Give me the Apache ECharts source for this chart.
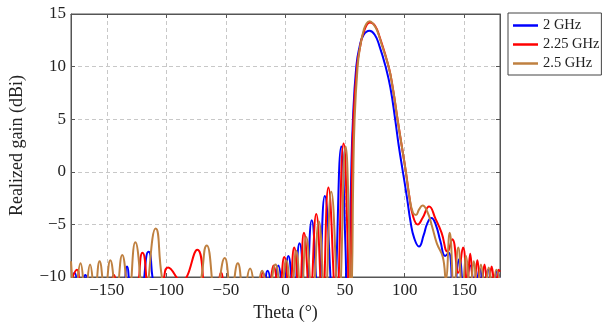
<!DOCTYPE html>
<html><head><meta charset="utf-8">
<script src="https://cdn.jsdelivr.net/npm/echarts@6/dist/echarts.min.js"></script>
<style>html,body{margin:0;padding:0;background:#fff}#c{width:603px;height:322px}</style>
</head><body><div id="c"></div>
<script>
const seriesNames = ['2 GHz', '2.25 GHz', '2.5 GHz'];
const thetaTicks = [-150, -100, -50, 0, 50, 100, 150];
const gainTicks = [-10, -5, 0, 5, 10, 15];

const gain2GHz = [[-180,-10.6],[-177,-9.6],[-173,-11.5],[-168,-9.8],[-164,-11.5],[-150,-13],[-137,-11.5],[-133,-9.0],[-129,-11.5],[-123,-11.8],[-115,-7.6],[-107,-12],[-80,-14],[-40,-14],[-20,-11.5],[-15,-9.4],[-10.5,-11.5],[-6,-8.9],[-1.8,-11.6],[2.4,-8.0],[7,-11.8],[11.8,-6.8],[17,-12],[22,-4.6],[27.5,-12],[33,-2.3],[40,-12.5],[46.8,2.4],[50.3,-7],[51.8,-13],[53.5,-10],[55,-1],[56.6,5],[59.4,10],[62,11.8],[65.5,13],[70.5,13.4],[75,13],[79,11.9],[84,10],[88,8],[92,5],[95,2.5],[98.5,0],[102,-2.5],[105,-4.8],[108,-6.3],[112,-7.1],[116,-6],[119,-4.9],[122.4,-4.4],[126,-5],[130,-6.6],[134,-8],[137,-7.7],[141,-11.5],[146,-8.3],[150,-11.5],[155,-8.9],[159,-11.5],[163,-9.2],[166.5,-11.5],[170,-9.3],[174,-11.5],[177.5,-9.4],[180,-10.5]];

const gain225GHz = [[-180,-10.4],[-175,-9.3],[-171,-11.5],[-160,-13],[-148,-11.5],[-144,-9.8],[-140,-11.5],[-128,-11.8],[-120,-7.7],[-112.5,-12],[-104,-10.8],[-98.5,-9.1],[-87.5,-10.4],[-74,-7.4],[-65,-12.5],[-58,-11.5],[-54,-9.6],[-50,-11.5],[-35,-13],[-23,-11.5],[-19,-9.6],[-14.5,-11.5],[-10,-8.9],[-5.5,-11.6],[-1,-8.1],[3.2,-11.8],[7.3,-7.2],[11.5,-12],[15.5,-5.8],[20.5,-12],[25.8,-4.0],[31,-12.3],[36,-1.5],[42.5,-12.5],[48.7,2.7],[52,-6],[53.2,-13],[54.6,-10],[55.6,-1],[57,5],[60,10],[62.5,11.8],[66,13.4],[71,14.2],[75,13.9],[79,12.8],[86.5,10],[90,8],[94,5],[97.5,2.5],[101,0],[104,-2.4],[107,-4.2],[111,-5.0],[115,-4.4],[120.5,-3.3],[126,-4.5],[131,-5.8],[136,-7.6],[140,-6.4],[145,-9.6],[149,-7.2],[152.5,-10.8],[155,-7.8],[158,-11.5],[161,-8.4],[164,-11.5],[167,-8.8],[170,-11.5],[173,-9.0],[176,-11.5],[179,-9.3],[180,-9.5]];

const gain25GHz = [[-180,-8.5],[-176.5,-11.5],[-172,-8.7],[-168,-11.5],[-164,-8.8],[-160,-11.5],[-156,-8.5],[-151.5,-11.5],[-147,-8.4],[-142,-11.5],[-137,-7.9],[-131.5,-11.7],[-126,-6.7],[-118.5,-12],[-109,-5.4],[-100,-12],[-88,-13],[-75,-12],[-66,-7.0],[-58.5,-11.8],[-51,-8.2],[-45.5,-11.5],[-40,-8.7],[-35,-11.5],[-29.7,-9.2],[-24.5,-11.5],[-19.6,-9.4],[-14.5,-11.5],[-8.4,-8.8],[-3.8,-11.6],[0.6,-8.4],[4.8,-11.8],[9,-7.5],[13,-12],[17.4,-6.2],[22.5,-12],[28,-4.7],[33,-12.3],[38.4,-1.9],[44.5,-12.5],[50.4,2.4],[53.5,-6],[54.6,-13],[55.8,-10],[56.8,-1],[58,5],[60.5,10],[62.5,11.8],[65.5,13.4],[68,14.1],[70.6,14.3],[74,14.0],[77,13.4],[81,12.0],[86.5,10],[90,8],[94,5],[97.5,2.5],[101,0],[104,-2.4],[107,-3.9],[109.5,-4.1],[112,-3.6],[115,-3.2],[119,-3.8],[123,-5.2],[127,-6.8],[132,-8.1],[134.5,-10.2],[137.8,-5.8],[141.5,-11.5],[145,-7.2],[148.5,-11.5],[151.5,-8.0],[155,-11.5],[158,-8.5],[161,-11.5],[164,-8.8],[167.5,-11.5],[170.5,-9.1],[174,-11.5],[177,-9.3],[180,-10.5]];

const colors = ['#0000ff', '#ff0000', '#bf8040'];
const FONT = 'Liberation Serif';
const minus = v => String(v).replace('-', '\u2212');

const chart = echarts.init(document.getElementById('c'), null, {renderer: 'canvas'});
const axisCommon = {
  axisLine: {show: true, onZero: false, lineStyle: {color: '#555', width: 1}},
  axisTick: {show: true, inside: true, length: 4, lineStyle: {color: '#555'}},
};
chart.setOption({
  animation: false,
  backgroundColor: '#fff',
  grid: {left: 71, right: 103, top: 14, bottom: 45, containLabel: false, outerBoundsMode: 'none',
         show: true, borderColor: '#555', borderWidth: 1, backgroundColor: '#fff'},
  legend: {
    data: seriesNames, orient: 'vertical', left: 508, top: 13,
    icon: 'rect', itemWidth: 25, itemHeight: 2.5, itemGap: 4,
    borderColor: '#444', borderWidth: 1, padding: [5, 2, 4, 5],
    textStyle: {fontFamily: FONT, fontSize: 14.5, color: '#222'}
  },
  xAxis: [{
    type: 'value', min: -180, max: 180, position: 'bottom',
    name: 'Theta (°)', nameLocation: 'middle', nameGap: 26,
    nameTextStyle: {fontFamily: FONT, fontSize: 18, color: '#222'},
    ...axisCommon,
    axisTick: {show: true, inside: true, length: 4, lineStyle: {color: '#555'}, customValues: thetaTicks},
    axisLabel: {fontFamily: FONT, fontSize: 17, color: '#222', margin: 5, customValues: thetaTicks, formatter: minus},
    splitLine: {show: true, lineStyle: {color: '#c8c8c8', type: [4, 3], width: 1}, customValues: thetaTicks}
  }, {
    type: 'value', min: -180, max: 180, position: 'top',
    axisLine: {show: true, onZero: false, lineStyle: {color: '#555'}},
    axisTick: {show: true, inside: true, length: 4, lineStyle: {color: '#555'}, customValues: thetaTicks},
    axisLabel: {show: false, customValues: thetaTicks}, splitLine: {show: false}
  }],
  yAxis: [{
    type: 'value', min: -10, max: 15, interval: 5, position: 'left',
    name: 'Realized gain (dBi)', nameLocation: 'middle', nameGap: 45, nameRotate: 90,
    nameTextStyle: {fontFamily: FONT, fontSize: 18, color: '#222'},
    ...axisCommon,
    axisLabel: {fontFamily: FONT, fontSize: 17, color: '#222', margin: 5, formatter: minus},
    splitLine: {show: true, lineStyle: {color: '#c8c8c8', type: [4, 3], width: 1}}
  }, {
    type: 'value', min: -10, max: 15, interval: 5, position: 'right',
    ...axisCommon, axisLabel: {show: false}, splitLine: {show: false}
  }],
  series: [gain2GHz, gain225GHz, gain25GHz].map((d, i) => ({
    name: seriesNames[i], type: 'line', data: d, xAxisIndex: 0, yAxisIndex: 0,
    symbol: 'none', showSymbol: false, smooth: 0.5, clip: true,
    lineStyle: {color: colors[i], width: 2}, itemStyle: {color: colors[i]}, z: 2 + i
  }))
});
</script></body></html>
